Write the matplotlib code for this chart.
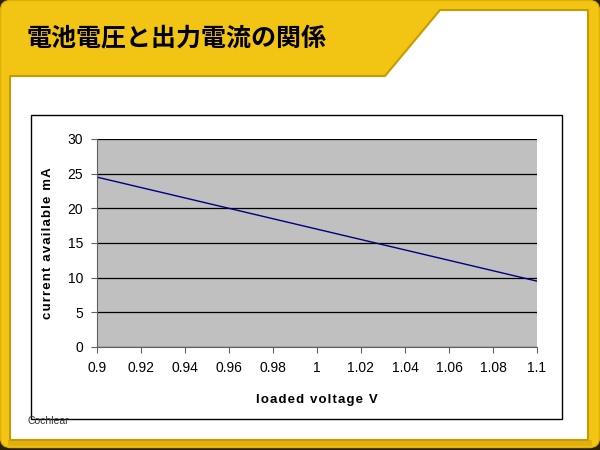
import matplotlib.pyplot as plt
from matplotlib.patches import FancyBboxPatch, Polygon, Rectangle

# data
voltage = [0.9, 0.96, 1.0, 1.04, 1.1]
current = [24.5, 20.0, 17.0, 14.0, 9.5]
xticks = [0.9, 0.92, 0.94, 0.96, 0.98, 1.0, 1.02, 1.04, 1.06, 1.08, 1.1]
xticklabels = ['0.9', '0.92', '0.94', '0.96', '0.98', '1', '1.02', '1.04', '1.06', '1.08', '1.1']
yticks = [0, 5, 10, 15, 20, 25, 30]

title = '電池電圧と出力電流の関係'


def spaced(s):
    # slight letter spacing like the original
    return '\u200a'.join(s)


fig = plt.figure(figsize=(6, 4.5), dpi=100)

# slide background in pixel coordinates
bg = fig.add_axes([0, 0, 1, 1])
bg.set_xlim(0, 600)
bg.set_ylim(450, 0)
bg.axis('off')

bg.add_patch(Rectangle((0, 0), 600, 450, facecolor='#2a2205', edgecolor='none'))
bg.add_patch(FancyBboxPatch((0.5, 0.5), 599, 447, boxstyle='round,pad=0,rounding_size=10',
                            facecolor='#F2C414', edgecolor='#e0b000', lw=1))
# darker yellow shading along the bottom edge
bg.add_patch(Rectangle((8, 440), 584, 6, facecolor='#E0B010', edgecolor='none'))
# white region: top-right notch plus main panel
white = Polygon([(10, 440), (10, 76), (385, 76), (440, 10), (588, 10), (588, 440)],
                closed=True, facecolor='white', edgecolor='#c99a00', lw=1.5, joinstyle='round')
bg.add_patch(white)

bg.text(27, 38, title, fontsize=18, fontweight='bold', color='black',
        family=['Noto Sans CJK JP', 'DejaVu Sans'], va='center', ha='left')

bg.text(28, 421, 'Cochlear', fontsize=7.5, color='#333333', va='center', ha='left',
        family='Liberation Sans')
bg.add_patch(Rectangle((31, 115), 531, 304, facecolor='none', edgecolor='black', lw=1))

# chart
ax = fig.add_axes([97 / 600, 1 - 347 / 450, 440 / 600, 208 / 450])
ax.set_facecolor('#C0C0C0')
ax.plot(voltage, current, color='#000080', lw=1)
ax.set_xlim(0.9, 1.1)
ax.set_ylim(0, 30)
ax.set_xticks(xticks)
ax.set_xticklabels(xticklabels)
ax.set_yticks(yticks)
ax.grid(axis='y', color='black', lw=0.9)
ax.set_axisbelow(True)
for s in ['top', 'right']:
    ax.spines[s].set_visible(False)
ax.spines['left'].set_color('#606060')
ax.spines['bottom'].set_color('#606060')
ax.tick_params(direction='out', length=4, color='#606060', labelsize=10, pad=6)
for lbl in ax.get_xticklabels() + ax.get_yticklabels():
    lbl.set_family('Liberation Sans')
ax.set_xlabel(spaced('loaded voltage V'), fontsize=9.5, fontweight='bold',
              family=['Liberation Sans', 'DejaVu Sans'], labelpad=14)
ax.set_ylabel(spaced('current available mA'), fontsize=9.5, fontweight='bold',
              family=['Liberation Sans', 'DejaVu Sans'], labelpad=10)

fig.savefig('out.png', dpi=100)
